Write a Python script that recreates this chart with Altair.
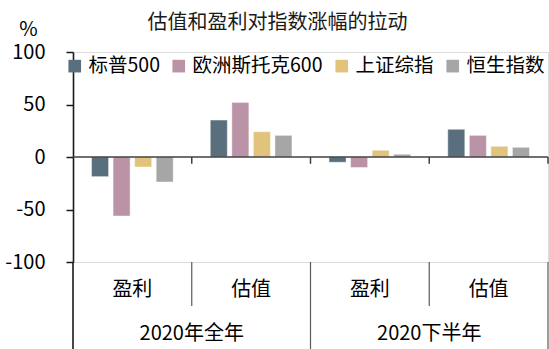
import altair as alt
import pandas as pd

title_text = "估值和盈利对指数涨幅的拉动"
periods = ["2020年全年", "2020下半年"]
factors = ["盈利", "估值"]
series = ["标普500", "欧洲斯托克600", "上证综指", "恒生指数"]
colors = ["#5a6f7d", "#bb93a6", "#e1c37b", "#a6a6a6"]
sp500 = [-18.7, 35.2, -5.0, 26.4]
stoxx600 = [-56.2, 52.0, -10.0, 20.6]
sse = [-9.5, 24.1, 6.4, 10.2]
hsi = [-23.8, 20.6, 2.6, 9.2]
y_ticks = [-100, -50, 0, 50, 100]

FONT = "Noto Sans CJK SC"
FS = 20

cats = [f"{p}|{f}" for p in periods for f in factors]
rows = []
for s, vals in zip(series, [sp500, stoxx600, sse, hsi]):
    for c, v in zip(cats, vals):
        rows.append({"cat": c, "series": s, "value": v})
bars_df = pd.DataFrame(rows)

xscale = alt.Scale(domain=cats, paddingInner=0, paddingOuter=0)
yscale = alt.Scale(domain=[-100, 100], nice=False)
y_axis = alt.Axis(values=y_ticks, grid=False, title="%", titleAngle=0,
                  titleX=-45, titleY=-23, titleAlign="center", titleBaseline="middle",
                  titleFontSize=FS, titleFontWeight="normal", titleColor="#000000",
                  titleFont=FONT, labelExpr="toString(datum.value)",
                  domainColor="#1a1a1a", domainWidth=1.6, tickColor="#1a1a1a",
                  tickWidth=1.5, tickSize=7, labelFontSize=FS, labelPadding=21,
                  labelColor="#000000", labelFont=FONT)

bars = alt.Chart(bars_df).mark_bar(stroke="white", strokeWidth=0.6, strokeOpacity=0.7).encode(
    x=alt.X("cat:N", scale=xscale, axis=None, sort=cats),
    xOffset=alt.XOffset("series:N", sort=series,
                        scale=alt.Scale(domain=series, paddingInner=0.21, paddingOuter=0.86)),
    y=alt.Y("value:Q", scale=yscale, axis=y_axis),
    color=alt.Color("series:N", sort=series, scale=alt.Scale(domain=series, range=colors),
                    legend=alt.Legend(title=None, orient="none", legendX=-8, legendY=4,
                                      direction="horizontal", columns=4, symbolType="square",
                                      symbolSize=160, symbolStrokeWidth=0, labelFontSize=19.5,
                                      labelOffset=4, columnPadding=9, labelFont=FONT,
                                      labelColor="#000000", symbolOpacity=1)),
)

# zero line
zero_df = pd.DataFrame({"y": [0]})
zero_line = alt.Chart(zero_df).mark_rule(color="#404040", strokeWidth=1.5).encode(
    y=alt.Y("y:Q", scale=yscale, axis=y_axis)
)

# small ticks below zero line at category boundaries
tick_df = pd.DataFrame({"cat": cats, "y": [0] * 4, "y2": [-6.5] * 4})
zero_ticks = alt.Chart(tick_df).mark_rule(color="#404040", strokeWidth=1.5).encode(
    x=alt.X("cat:N", scale=xscale, axis=None, bandPosition=1),
    y=alt.Y("y:Q", scale=yscale, axis=y_axis), y2="y2:Q",
)

# separators below the plot
sep_df = pd.DataFrame({"cat": cats, "y": [-100] * 4, "y2": [-142, -185, -142, -185]})
seps = alt.Chart(sep_df).mark_rule(color="#5a5a5a", strokeWidth=1.2).encode(
    x=alt.X("cat:N", scale=xscale, axis=None, bandPosition=1),
    y=alt.Y("y:Q", scale=yscale, axis=y_axis), y2="y2:Q",
)
ext_df = pd.DataFrame({"cat": cats[:1], "y": [-100], "y2": [-185]})
axis_ext = alt.Chart(ext_df).mark_rule(color="#1a1a1a", strokeWidth=1.6).encode(
    x=alt.X("cat:N", scale=xscale, axis=None, bandPosition=0),
    y=alt.Y("y:Q", scale=yscale, axis=y_axis), y2="y2:Q",
)

sub_df = pd.DataFrame({"cat": cats, "label": [f for p in periods for f in factors], "y": [-127] * 4})
sub_text = alt.Chart(sub_df).mark_text(fontSize=FS, baseline="middle", font=FONT, color="#000000").encode(
    x=alt.X("cat:N", scale=xscale, axis=None),
    y=alt.Y("y:Q", scale=yscale, axis=y_axis),
    text="label:N",
)
major_df = pd.DataFrame({"cat": [cats[0], cats[2]], "label": periods, "y": [-169] * 2})
major_text = alt.Chart(major_df).mark_text(fontSize=FS, baseline="middle", font=FONT, color="#000000").encode(
    x=alt.X("cat:N", scale=xscale, axis=None, bandPosition=1),
    y=alt.Y("y:Q", scale=yscale, axis=y_axis),
    text="label:N",
)

chart = alt.layer(
    bars, zero_line, zero_ticks, seps, axis_ext, sub_text, major_text
).properties(
    width=475, height=210,
    title=alt.TitleParams(title_text, fontSize=FS, fontWeight="normal", font=FONT,
                          anchor="middle", frame="group", dx=-33, dy=32, offset=18,
                          color="#1a1a1a"),
    autosize=alt.AutoSizeParams(type="none"),
    padding={"left": 73, "top": 52, "right": 1, "bottom": 87},
).configure_view(stroke=None).configure(font=FONT)

chart.save("out.html", embed_options={"renderer": "svg", "actions": False})
